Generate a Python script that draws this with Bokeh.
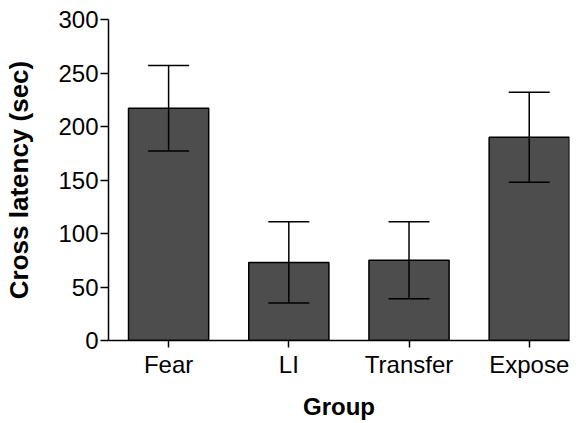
from bokeh.plotting import figure
from bokeh.models import ColumnDataSource, Range1d, FixedTicker, Whisker, TeeHead
from bokeh.embed import file_html
from bokeh.resources import INLINE

groups = ["Fear", "LI", "Transfer", "Expose"]
means = [217, 73, 75, 190]
err_low = [177, 35, 39, 148]
err_high = [257, 111, 111, 232]
y_ticks = [0, 50, 100, 150, 200, 250, 300]

xpos = list(range(len(groups)))
src = ColumnDataSource(data=dict(x=xpos, top=means, lower=err_low, upper=err_high))

p = figure(frame_width=461, frame_height=321, output_backend="svg", toolbar_location=None,
           x_range=Range1d(-0.5, 3.335), y_range=Range1d(0, 300),
           min_border_left=108, min_border_top=19, min_border_right=7, min_border_bottom=83)
p.outline_line_color = None
p.xgrid.grid_line_color = None
p.ygrid.grid_line_color = None

p.vbar(x="x", top="top", bottom=0, width=0.667, source=src,
       fill_color="#4d4d4d", line_color="black", line_width=1.5)

w = Whisker(base="x", upper="upper", lower="lower", source=src, line_color="black", line_width=1.5,
            upper_head=TeeHead(size=41, line_color="black", line_width=1.5),
            lower_head=TeeHead(size=41, line_color="black", line_width=1.5),
            level="overlay")
p.add_layout(w)

font = "Liberation Sans"
p.xaxis.ticker = FixedTicker(ticks=xpos)
p.xaxis.major_label_overrides = {i: g for i, g in enumerate(groups)}
p.yaxis.ticker = FixedTicker(ticks=y_ticks)
for ax in (p.xaxis, p.yaxis):
    ax.axis_line_color = "black"
    ax.axis_line_width = 1.5
    ax.major_tick_line_color = "black"
    ax.major_tick_line_width = 1.5
    ax.major_tick_in = 0
    ax.minor_tick_line_color = None
    ax.major_label_text_font = font
    ax.major_label_text_font_size = "24px"
    ax.major_label_text_color = "black"
    ax.axis_label_text_font = font
    ax.axis_label_text_font_style = "bold"
    ax.axis_label_text_color = "black"
p.xaxis.axis_label_text_font_size = "24px"
p.yaxis.axis_label_text_font_size = "26px"
p.xaxis.major_tick_out = 7
p.yaxis.major_tick_out = 8
p.xaxis.major_label_standoff = 3
p.yaxis.major_label_standoff = 2
p.xaxis.axis_label = "Group"
p.yaxis.axis_label = "Cross latency (sec)"
p.xaxis.axis_label_standoff = 12
p.yaxis.axis_label_standoff = 21

open("out.html", "w").write(file_html(p, INLINE))
